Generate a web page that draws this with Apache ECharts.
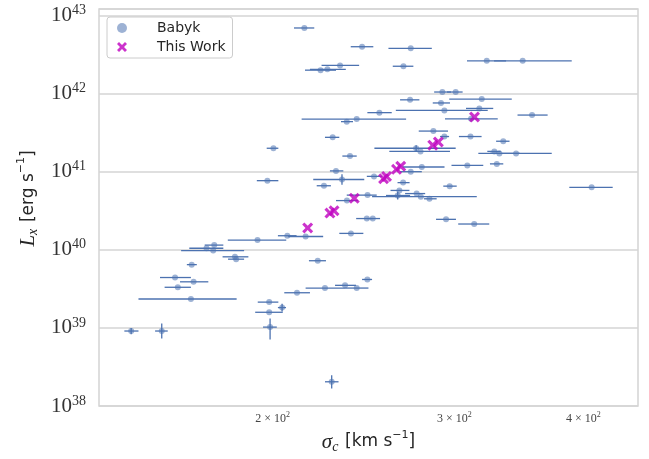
<!DOCTYPE html>
<html>
<head>
<meta charset="utf-8">
<script src="https://cdn.jsdelivr.net/npm/echarts@6/dist/echarts.min.js"></script>
<style>
  html, body { margin: 0; padding: 0; background: #fff; }
  #chart { width: 649px; height: 459px; }
</style>
</head>
<body>
<div id="chart"></div>
<script>
// Babyk sample: sigma_c [km/s] with error bar ends, log10 Lx [erg/s] with errors (dex)
const babykSigma = [214.7, 244.2, 272.2, 267.8, 232.5, 222.6, 226.0, 322.5, 349.4, 292.1,
  300.9, 271.8, 318.9, 291.2, 317.2, 293.4, 253.8, 356.8, 241.3, 236.0,
  311.4, 286.3, 228.7, 293.4, 311.0, 334.6, 200.4, 275.5, 278.2, 328.0,
  331.7, 344.3, 237.7, 279.0, 308.8, 329.8, 230.4, 272.2, 250.8, 197.7,
  233.5, 224.3, 267.6, 296.9, 407.5, 265.4, 264.4, 275.8, 278.4, 283.8,
  247.2, 236.1, 246.8, 250.1, 294.5, 313.6, 238.2, 206.7, 215.3, 193.4,
  175.6, 172.6, 175.2, 183.9, 184.4, 221.2, 167.0, 160.9, 167.7, 161.9,
  166.7, 247.1, 235.1, 224.8, 241.3, 211.2, 198.5, 204.3, 198.5, 145.9,
  156.2, 198.9, 228.2]
const babykSigmaLo = [209.8, 238.1, 259.0, 261.5, 223.1, 215.0, 217.4, 308.6, 327.8, 286.8,
  295.1, 265.8, 296.6, 285.9, 307.9, 263.3, 247.1, 345.4, 213.4, 233.0,
  293.8, 277.1, 224.8, 290.6, 303.1, 329.3, 197.4, 251.0, 259.5, 322.9,
  316.5, 324.8, 233.7, 267.3, 298.1, 324.8, 227.3, 265.8, 246.8, 193.1,
  219.0, 220.7, 264.3, 292.7, 387.7, 260.2, 257.6, 268.8, 249.7, 280.4,
  236.0, 230.4, 241.0, 247.0, 288.0, 302.6, 232.1, 202.4, 207.1, 181.0,
  171.9, 166.1, 163.1, 178.9, 181.1, 216.9, 165.2, 155.6, 162.7, 157.2,
  148.3, 244.2, 229.9, 215.3, 235.1, 205.3, 193.5, 202.4, 192.4, 143.7,
  153.9, 195.8, 224.8]
const babykSigmaHi = [219.5, 250.4, 285.3, 273.8, 242.6, 230.4, 235.5, 336.7, 389.8, 297.8,
  305.6, 277.5, 341.0, 297.1, 327.2, 323.2, 260.9, 369.4, 269.4, 239.3,
  330.5, 295.8, 232.1, 296.5, 318.8, 339.3, 202.6, 300.9, 297.1, 332.7,
  347.3, 372.8, 241.3, 293.5, 320.0, 334.6, 234.2, 279.0, 255.2, 202.6,
  245.4, 227.8, 271.5, 301.6, 427.1, 271.4, 271.8, 281.1, 315.4, 288.4,
  252.3, 242.0, 250.0, 254.2, 301.1, 324.3, 244.9, 211.0, 223.9, 206.2,
  179.2, 179.2, 187.7, 189.5, 187.7, 225.3, 168.9, 166.7, 173.3, 166.7,
  184.6, 249.7, 240.9, 235.1, 247.7, 217.4, 202.6, 206.1, 204.6, 148.3,
  158.3, 201.9, 231.7]
const babykLogL = [42.84, 42.60, 42.58, 42.35, 42.36, 42.30, 42.31, 42.42, 42.42, 42.02,
  42.02, 41.92, 41.93, 41.88, 41.81, 41.785, 41.756, 41.725, 41.674, 41.641,
  41.677, 41.52, 41.44, 41.45, 41.45, 41.39, 41.30, 41.30, 41.26, 41.26,
  41.234, 41.234, 41.20, 41.06, 41.08, 41.10, 41.01, 41.00, 40.94, 40.885,
  40.90, 40.82, 40.86, 40.815, 40.80, 40.76, 40.695, 40.72, 40.68, 40.653,
  40.70, 40.63, 40.40, 40.40, 40.39, 40.33, 40.21, 40.18, 40.17, 40.125,
  40.06, 40.02, 39.99, 39.91, 39.88, 39.86, 39.81, 39.645, 39.59, 39.52,
  39.37, 39.62, 39.545, 39.51, 39.51, 39.45, 39.33, 39.26, 39.20, 38.96,
  38.96, 39.01, 38.31]
const babykLogLErrLo = [0, 0, 0, 0, 0, 0, 0, 0, 0, 0,
  0, 0, 0, 0, 0, 0, 0, 0, 0, 0,
  0, 0, 0, 0, 0, 0, 0, 0.04, 0, 0,
  0, 0, 0, 0, 0, 0, 0, 0, 0, 0,
  0.067, 0, 0, 0, 0, 0, 0.05, 0, 0, 0,
  0, 0, 0, 0, 0, 0, 0, 0, 0, 0,
  0, 0, 0, 0, 0, 0, 0, 0, 0, 0,
  0, 0, 0, 0, 0, 0, 0, 0.05, 0, 0.04,
  0.095, 0.158, 0.085]
const babykLogLErrHi = [0, 0, 0, 0, 0, 0, 0, 0, 0, 0,
  0, 0, 0, 0, 0, 0, 0, 0, 0, 0,
  0, 0, 0, 0, 0, 0, 0, 0.04, 0, 0,
  0, 0, 0, 0, 0, 0, 0, 0, 0, 0,
  0.067, 0, 0, 0, 0, 0, 0.05, 0, 0, 0,
  0, 0, 0, 0, 0, 0, 0, 0, 0, 0,
  0, 0, 0, 0, 0, 0, 0, 0, 0, 0,
  0, 0, 0, 0, 0, 0, 0, 0.05, 0, 0.04,
  0.095, 0.109, 0.085]

// This Work
const workSigma = [216.3, 227.3, 229.4, 240.0, 256.2, 257.9, 263.7, 266.2, 285.9, 289.5, 313.8]
const workLogL = [40.28, 40.47, 40.50, 40.66, 40.91, 40.94, 41.03, 41.07, 41.34, 41.38, 41.70]

// axes
const xRange = [135.8, 451.9]
const yRange = [38, 43.083]
const xTickValues = [200, 300, 400]
const yTickExponents = [38, 39, 40, 41, 42, 43]

const lg = Math.log10
const errData = babykSigma.map((s, i) => [
  lg(s), babykLogL[i], lg(babykSigmaLo[i]), lg(babykSigmaHi[i]),
  babykLogL[i] - babykLogLErrLo[i], babykLogL[i] + babykLogLErrHi[i]
])
const babykData = babykSigma.map((s, i) => [lg(s), babykLogL[i]])
const workData = workSigma.map((s, i) => [lg(s), workLogL[i]])

const blue = '#4c72b0'
const magenta = '#bf00bf'
const xPath = 'path://M0,2L2,0L5,3L8,0L10,2L7,5L10,8L8,10L5,7L2,10L0,8L3,5Z'
const serif = 'Liberation Serif'
const sans = 'DejaVu Sans'

const nameRich = {
  i: { fontFamily: serif, fontStyle: 'italic', fontSize: 21, lineHeight: 24, color: '#262626' },
  sub: { fontFamily: serif, fontStyle: 'italic', fontSize: 14, lineHeight: 14, verticalAlign: 'bottom', color: '#262626' },
  t: { fontFamily: sans, fontSize: 17, lineHeight: 24, color: '#262626' },
  sup: { fontFamily: sans, fontSize: 11, lineHeight: 11, verticalAlign: 'top', color: '#262626' }
}

let chart = echarts.init(document.getElementById('chart'))
let option = {
  animation: false,
  backgroundColor: '#fff',
  grid: {
    left: 99, right: 11, top: 9, bottom: 50,
    show: true, borderColor: '#d4d4d4', borderWidth: 1.5, backgroundColor: '#fff'
  },
  legend: {
    left: 107, top: 17,
    orient: 'vertical',
    data: [{ name: 'Babyk', icon: 'circle' }, { name: 'This Work', icon: xPath }],
    itemWidth: 20, itemHeight: 10, itemGap: 5,
    padding: [4, 7, 4, 10],
    borderColor: '#cccccc', borderWidth: 1, borderRadius: 3,
    backgroundColor: '#fff',
    textStyle: { fontFamily: sans, fontSize: 14, color: '#262626', padding: [0, 0, 0, 20] }
  },
  xAxis: {
    type: 'value',
    min: lg(xRange[0]), max: lg(xRange[1]),
    axisLine: { show: false },
    axisTick: { show: false },
    splitLine: { show: false },
    axisLabel: {
      customValues: xTickValues.map(lg),
      margin: 5,
      formatter: v => {
        const m = Math.round(Math.pow(10, v) / 100)
        return '{n|' + m + ' × 10}{s|2}'
      },
      rich: {
        n: { fontFamily: serif, fontSize: 12, lineHeight: 16, color: '#444' },
        s: { fontFamily: serif, fontSize: 8, lineHeight: 8, verticalAlign: 'top', color: '#444' }
      }
    },
    name: '{i|σ}{sub|c}  {t|[km s}{sup|−1}{t|]}',
    nameLocation: 'middle',
    nameGap: 24,
    nameTextStyle: { rich: nameRich }
  },
  yAxis: {
    type: 'value',
    min: yRange[0], max: yRange[1], interval: 1,
    axisLine: { show: false },
    axisTick: { show: false },
    splitLine: { lineStyle: { color: '#d4d4d4', width: 1.5 } },
    axisLabel: {
      showMaxLabel: false,
      margin: 13,
      formatter: v => yTickExponents.includes(v) ? '{n|10}{s|' + v + '}' : '',
      rich: {
        n: { fontFamily: serif, fontSize: 21, lineHeight: 24, color: '#333' },
        s: { fontFamily: serif, fontSize: 14, lineHeight: 14, verticalAlign: 'top', color: '#333' }
      }
    },
    name: '{i|L}{sub|x}  {t|[erg s}{sup|−1}{t|]}',
    nameLocation: 'middle',
    nameRotate: 90,
    nameGap: 53,
    nameTextStyle: { rich: nameRich, padding: [0, 0, 0, 18] }
  },
  series: [
    {
      type: 'custom',
      name: 'errors',
      data: errData,
      z: 1,
      renderItem: (params, api) => {
        const y = api.value(1)
        const a = api.coord([api.value(2), y])
        const b = api.coord([api.value(3), y])
        const kids = [{
          type: 'line',
          shape: { x1: a[0], y1: a[1], x2: b[0], y2: b[1] },
          style: { stroke: blue, lineWidth: 1.3 }
        }]
        if (api.value(5) > api.value(4)) {
          const c = api.coord([api.value(0), api.value(4)])
          const d = api.coord([api.value(0), api.value(5)])
          kids.push({
            type: 'line',
            shape: { x1: c[0], y1: c[1], x2: d[0], y2: d[1] },
            style: { stroke: blue, lineWidth: 1.3 }
          })
        }
        return { type: 'group', children: kids }
      }
    },
    {
      type: 'scatter',
      name: 'Babyk',
      data: babykData,
      symbol: 'circle',
      symbolSize: 6,
      z: 2,
      itemStyle: { color: blue, opacity: 0.55 }
    },
    {
      type: 'scatter',
      name: 'This Work',
      data: workData,
      symbol: xPath,
      symbolSize: 11,
      z: 3,
      itemStyle: { color: magenta }
    }
  ]
}
option && chart.setOption(option)
</script>
</body>
</html>
